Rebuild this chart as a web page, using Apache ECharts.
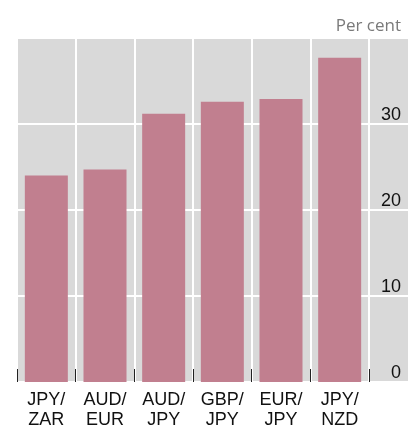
<!DOCTYPE html>
<html>
<head>
<meta charset="utf-8">
<script src="https://cdn.jsdelivr.net/npm/echarts@6/dist/echarts.min.js"></script>
<style>
  html, body { margin: 0; padding: 0; background: #fff; }
  #chart { width: 408px; height: 430px; }
</style>
</head>
<body>
<div id="chart"></div>
<script>
// 货币对
var pairs = ["JPY/\nZAR", "AUD/\nEUR", "AUD/\nJPY", "GBP/\nJPY", "EUR/\nJPY", "JPY/\nNZD"];
// 数值（百分比）
var shares = [24.0, 24.7, 31.2, 32.6, 32.9, 37.7];
// y轴刻度
var yMin = 0, yMax = 40, yStep = 10;

var chart = echarts.init(document.getElementById("chart"));

var option = {
  animation: false,
  title: {
    text: "Per cent",
    right: 2,
    top: 13,
    textStyle: { fontFamily: "Open Sans", fontSize: 17, fontWeight: "normal", color: "#7a7a7a" }
  },
  grid: [
    // 灰色背景 + 横向网格线，覆盖整个宽度
    { left: 17, right: 0, top: 38, bottom: 48, show: true, backgroundColor: "#d9d9d9", borderWidth: 0 },
    // 柱子区域
    { left: 17, right: 39, top: 38, bottom: 48 }
  ],
  xAxis: [
    { type: "value", gridIndex: 0, min: 0, max: 1, show: false },
    {
      type: "category",
      gridIndex: 1,
      data: pairs,
      axisLine: { show: false },
      axisTick: { show: true, inside: true, length: 13, lineStyle: { color: "#222", width: 1 } },
      splitLine: { show: true, interval: 0, lineStyle: { color: "#fff", width: 2 } },
      axisLabel: {
        interval: 0,
        margin: 8,
        fontFamily: "Liberation Sans",
        fontSize: 18,
        lineHeight: 20,
        color: "#111"
      }
    }
  ],
  yAxis: [
    {
      type: "value",
      gridIndex: 0,
      position: "right",
      min: yMin,
      max: yMax,
      interval: yStep,
      axisLine: { show: false },
      axisTick: { show: false },
      splitLine: { show: true, lineStyle: { color: "#fff", width: 2 } },
      axisLabel: {
        inside: true,
        margin: 7,
        verticalAlign: "bottom",
        fontFamily: "Liberation Sans",
        fontSize: 18,
        color: "#111",
        showMaxLabel: false
      }
    },
    { type: "value", gridIndex: 1, min: yMin, max: yMax, show: false }
  ],
  series: [
    {
      type: "bar",
      xAxisIndex: 1,
      yAxisIndex: 1,
      data: shares,
      barWidth: 43,
      itemStyle: { color: "#c17f8f" }
    }
  ]
};

chart.setOption(option);
</script>
</body>
</html>
